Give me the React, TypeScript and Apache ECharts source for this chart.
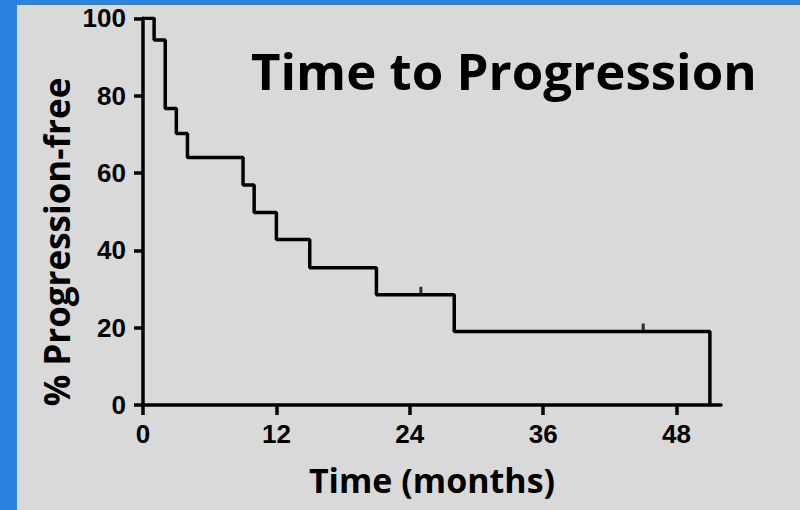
import React, { useEffect, useRef } from "react";
import * as echarts from "echarts";

const months = [0, 1, 2, 3, 4, 9, 10, 12, 15, 21, 28, 51];
const progressionFree = [100, 94.4, 76.7, 70.2, 64.0, 56.9, 49.8, 42.8, 35.5, 28.5, 19.0, 0];
const censorMonths = [25, 45];
const censorValues = [28.5, 19.0];
const xTicks = [0, 12, 24, 36, 48];
const titleText = "Time to Progression";
const xName = "Time (months)";
const yName = "% Progression-free";

export default function App() {
  const ref = useRef<HTMLDivElement>(null);
  useEffect(() => {
    document.body.style.margin = "0";
    const chart = echarts.init(ref.current!, null, { renderer: "svg" });
    const labelFont = { fontFamily: "Liberation Sans", fontWeight: "bold" as const, fontSize: 26, color: "#000" };
    const nameFont = { fontFamily: "Open Sans", fontWeight: "bold" as const, fontSize: 34, color: "#000" };
    chart.setOption({
      animation: false,
      backgroundColor: "#d9d9d9",
      graphic: [
        { type: "rect", left: 0, top: 0, shape: { width: 17, height: 510 }, style: { fill: "#2a83df" }, z: 10 },
        { type: "rect", left: 0, top: 0, shape: { width: 800, height: 5 }, style: { fill: "#2a83df" }, z: 10 },
        {
          type: "text",
          x: 251,
          y: 44,
          style: { text: titleText, fontFamily: "Open Sans", fontWeight: "bold", fontSize: 51, fill: "#000", textAlign: "left", textVerticalAlign: "top" },
          z: 10,
        },
        {
          type: "text",
          x: 56,
          y: 242,
          rotation: Math.PI / 2,
          style: { text: yName, fontFamily: "Open Sans", fontWeight: "bold", fontSize: 35, fill: "#000", textAlign: "center", textVerticalAlign: "middle" },
          z: 10,
        },
      ],
      grid: { left: 143, top: 18.3, width: 578, height: 386.7, containLabel: false },
      xAxis: {
        type: "value",
        min: 0,
        max: 52,
        interval: 12,
        name: xName,
        nameLocation: "middle",
        nameGap: 58,
        nameTextStyle: nameFont,
        splitLine: { show: false },
        axisLine: { show: true, onZero: false, lineStyle: { color: "#000", width: 3.5 } },
        axisTick: { show: true, length: 10, lineStyle: { color: "#000", width: 3.5 }, customValues: xTicks },
        axisLabel: { ...labelFont, margin: 16, customValues: xTicks },
      },
      yAxis: {
        type: "value",
        min: 0,
        max: 100,
        interval: 20,
        splitLine: { show: false },
        axisLine: { show: true, lineStyle: { color: "#000", width: 3.5 } },
        axisTick: { show: true, length: 9, lineStyle: { color: "#000", width: 3.5 } },
        axisLabel: { ...labelFont, margin: 17 },
      },
      series: [
        {
          type: "line",
          step: "end",
          data: months.map((m, i) => [m, progressionFree[i]]),
          showSymbol: false,
          symbol: "none",
          lineStyle: { color: "#000", width: 3.5 },
        },
        {
          type: "scatter",
          data: censorMonths.map((m, i) => [m, censorValues[i]]),
          symbol: "rect",
          symbolSize: [3, 8],
          symbolOffset: [0, -4],
          itemStyle: { color: "#000" },
        },
      ],
    });
    return () => chart.dispose();
  }, []);
  return <div ref={ref} style={{ position: "absolute", left: 0, top: 0, width: 800, height: 510 }} />;
}
